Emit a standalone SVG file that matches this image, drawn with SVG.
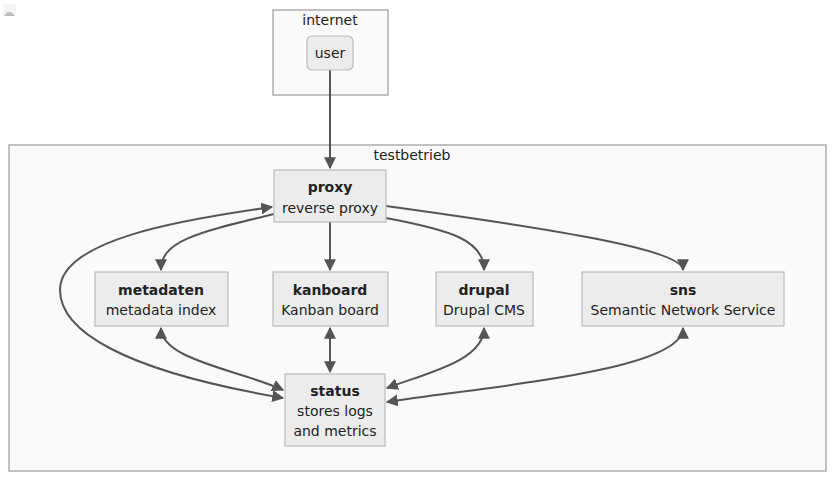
<svg xmlns="http://www.w3.org/2000/svg" width="836" height="488" viewBox="0 0 836 488">
<style>
.cl{fill:#fafafa;stroke:#999;stroke-width:1.2}
.nd{fill:#ececec;stroke:#bbb;stroke-width:1.2}
text{font-family:"DejaVu Sans",Verdana,sans-serif;font-size:14px;fill:#222;text-anchor:middle}
.b{font-weight:bold}
.e{fill:none;stroke:#555;stroke-width:2}
</style>
<defs>
<marker id="a" viewBox="0 0 10 10" refX="9" refY="5" markerWidth="6" markerHeight="6" orient="auto-start-reverse"><path d="M0,0L10,5L0,10z" fill="#555"/></marker>
</defs>
<rect x="3" y="4" width="13" height="12" rx="2" fill="#f4f4f4"/>
<path d="M4,16 Q9,8 15,16 Z" fill="#bbb"/>
<g id="internet"><rect class="cl" x="273" y="10" width="115" height="85"/><text x="330" y="25">internet</text></g>
<g id="testbetrieb"><rect class="cl" x="9" y="145" width="817" height="326"/><text x="412" y="160">testbetrieb</text></g>
<g id="connectors">
<path class="e" d="M330,70V168" marker-end="url(#a)"/>
<path class="e" d="M330,222V270" marker-end="url(#a)"/>
<path class="e" d="M274,214C200,232 161,240 161,270" marker-end="url(#a)"/>
<path class="e" d="M386,218C450,230 484,240 484,270" marker-end="url(#a)"/>
<path class="e" d="M386,206C560,230 683,250 683,270" marker-end="url(#a)"/>
<path class="e" d="M283,398C120,370 60,330 60,290C60,240 180,220 272,207" marker-start="url(#a)" marker-end="url(#a)"/>
<path class="e" d="M161,328C161,360 240,370 283,390" marker-start="url(#a)" marker-end="url(#a)"/>
<path class="e" d="M330,328V372" marker-start="url(#a)" marker-end="url(#a)"/>
<path class="e" d="M484,328C484,360 430,372 387,388" marker-start="url(#a)" marker-end="url(#a)"/>
<path class="e" d="M683,328C683,370 500,385 387,402" marker-start="url(#a)" marker-end="url(#a)"/>
</g>
<g id="user"><rect class="nd" x="307" y="36" width="46" height="34" rx="5"/><text x="330" y="58">user</text></g>
<g id="proxy"><rect class="nd" x="274" y="170" width="112" height="52"/><text class="b" x="330" y="192">proxy</text><text x="330" y="213">reverse proxy</text></g>
<g id="metadaten"><rect class="nd" x="95" y="272" width="133" height="54"/><text class="b" x="161" y="295">metadaten</text><text x="161" y="315">metadata index</text></g>
<g id="kanboard"><rect class="nd" x="273" y="272" width="115" height="54"/><text class="b" x="330" y="295">kanboard</text><text x="330" y="315">Kanban board</text></g>
<g id="drupal"><rect class="nd" x="436" y="272" width="97" height="54"/><text class="b" x="484" y="295">drupal</text><text x="484" y="315">Drupal CMS</text></g>
<g id="sns"><rect class="nd" x="582" y="272" width="202" height="54"/><text class="b" x="683" y="295">sns</text><text x="683" y="315">Semantic Network Service</text></g>
<g id="status"><rect class="nd" x="285" y="374" width="100" height="72"/><text class="b" x="335" y="396">status</text><text x="335" y="416">stores logs</text><text x="335" y="436">and metrics</text></g>
</svg>
